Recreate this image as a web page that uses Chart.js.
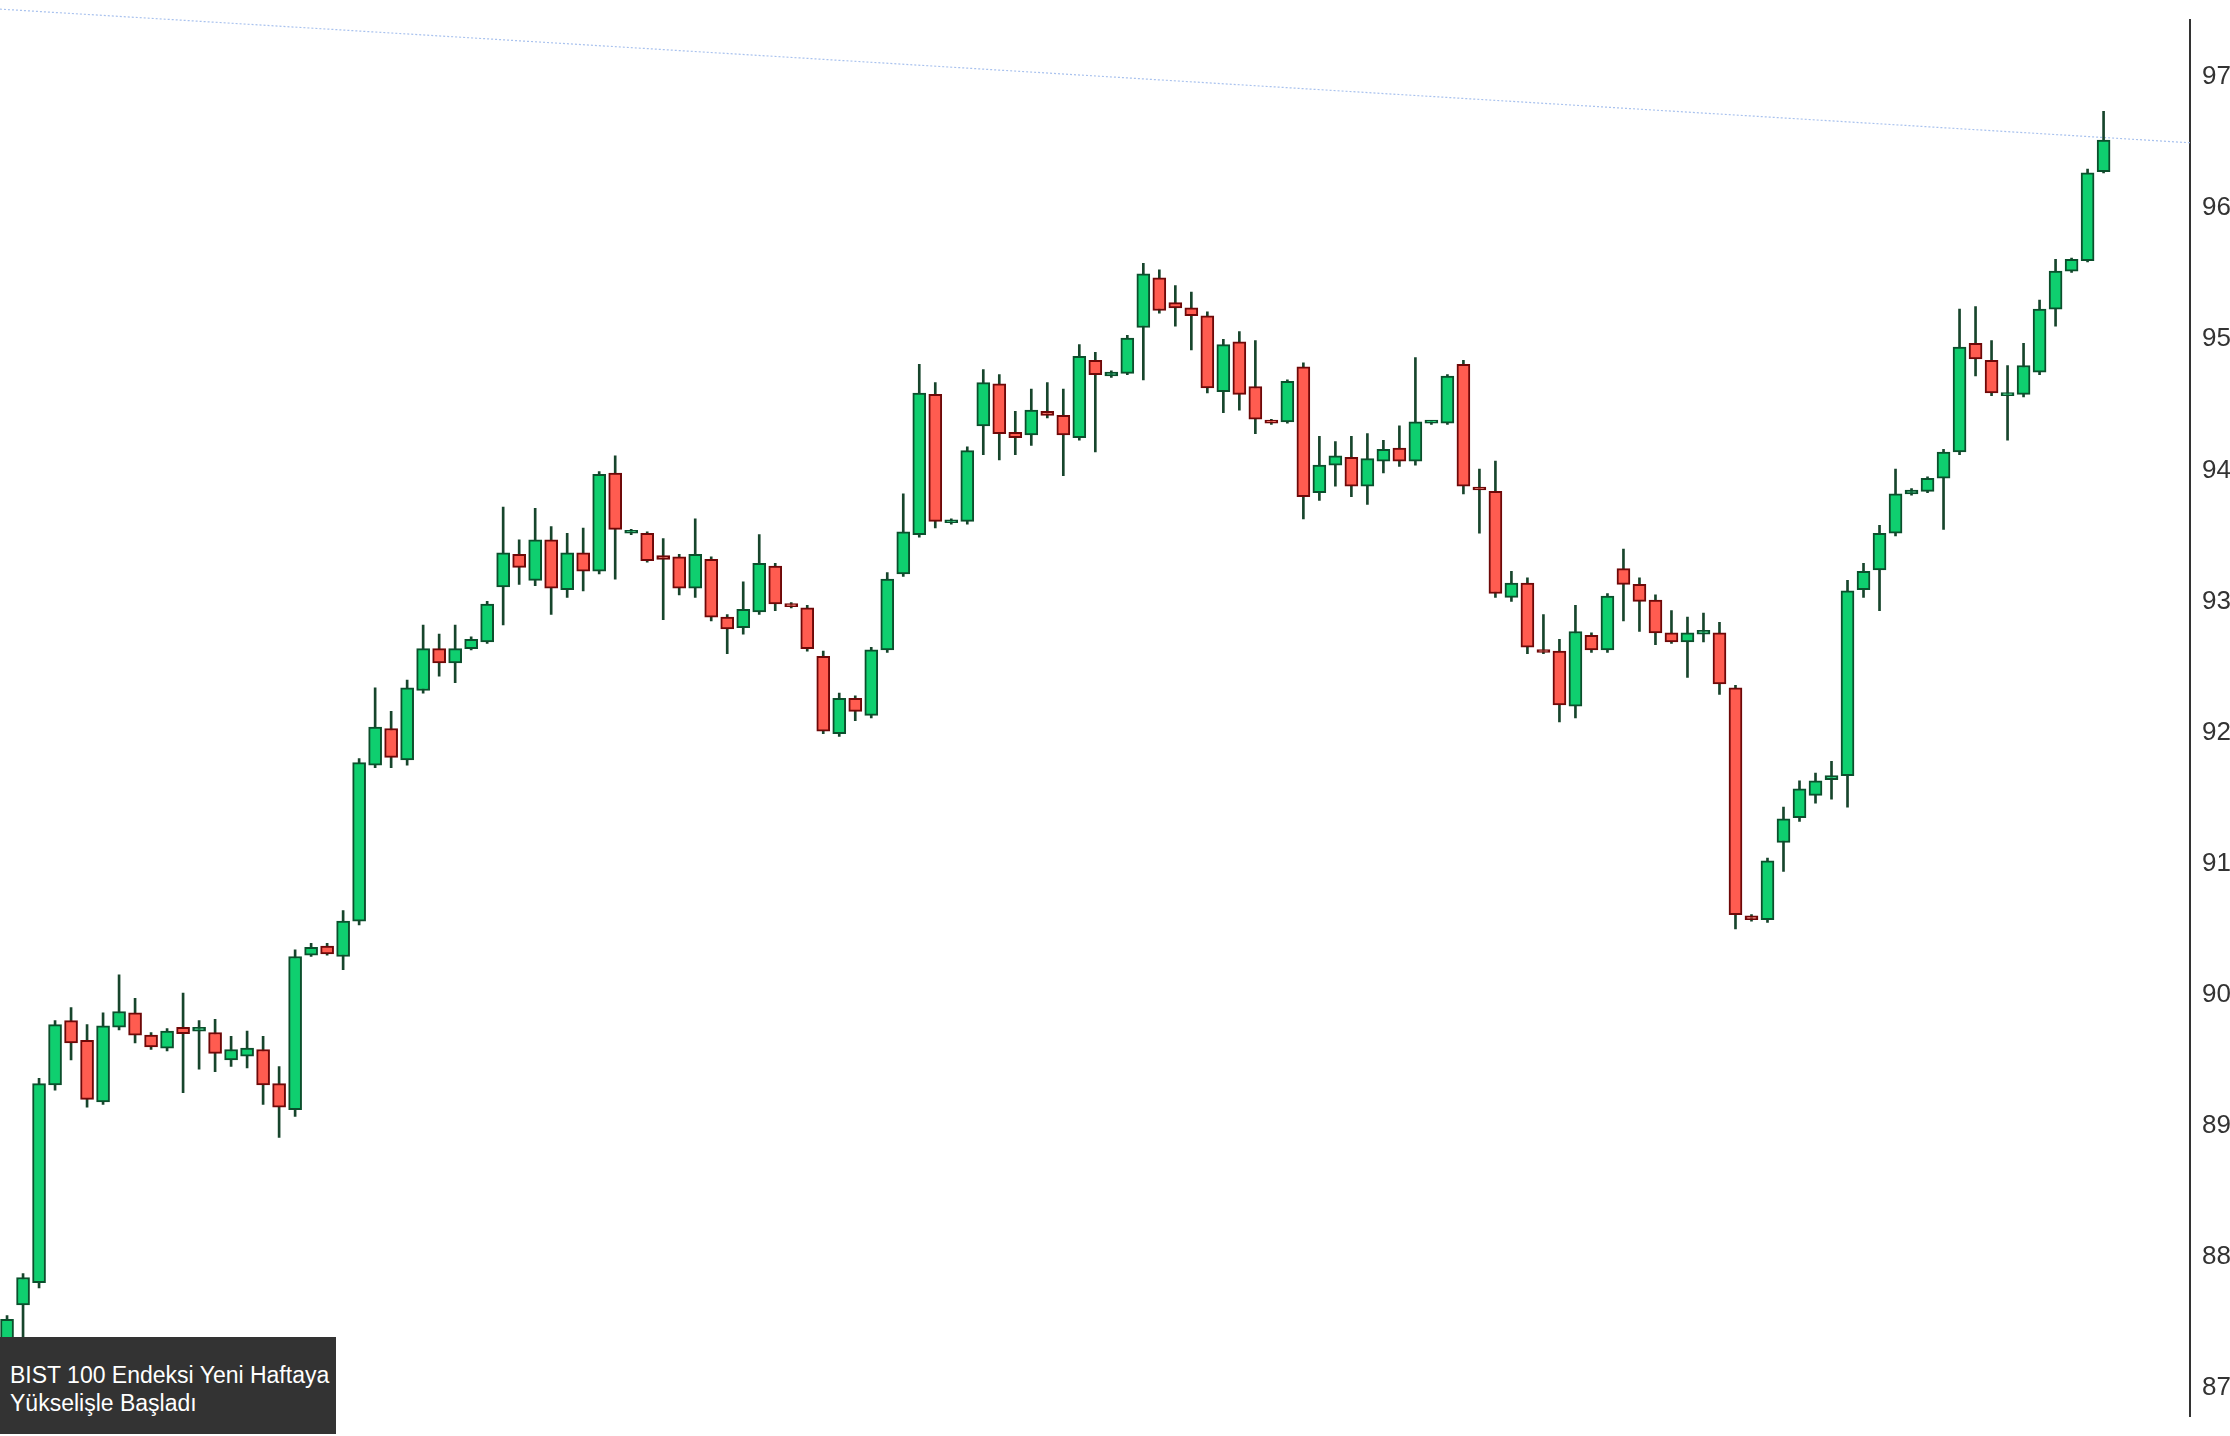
<!DOCTYPE html>
<html><head><meta charset="utf-8">
<script src="https://cdn.jsdelivr.net/npm/chart.js@4"></script>
<style>
html,body{margin:0;padding:0;background:#fff;overflow:hidden}
#wrap{position:relative;width:2230px;height:1436px}
#cap{position:absolute;left:0;top:1337px;width:336px;height:97px;background:#333;color:#fff;font-family:"Liberation Sans",Arial,sans-serif;font-size:23px;line-height:28px;padding:24px 0 0 10px;box-sizing:border-box;white-space:nowrap}
</style></head><body>
<div id="wrap"><canvas id="c" width="2230" height="1436"></canvas>
<div id="cap">BIST 100 Endeksi Yeni Haftaya<br>Yükselişle Başladı</div></div>
<script>
const opens=[8722,8763,8780,8931,8980,8965,8918,8975,8986,8969,8959,8975,8972,8971,8950,8953,8958,8932,8912,9030,9037,9029,9056,9175,9203,9179,9232,9264,9253,9264,9269,9311,9336,9316,9347,9309,9337,9323,9398,9352,9352,9335,9334,9310,9332,9288,9280,9292,9327,9298,9295,9258,9199,9226,9213,9263,9321,9351,9458,9360,9361,9434,9466,9429,9427,9445,9442,9425,9484,9472,9474,9509,9547,9528,9524,9518,9460,9498,9464,9438,9437,9479,9383,9404,9410,9388,9407,9417,9407,9436,9436,9481,9387,9384,9303,9314,9263,9262,9220,9274,9263,9325,9313,9301,9276,9269,9275,9276,9234,9060,9057,9116,9135,9152,9164,9167,9309,9324,9352,9382,9384,9394,9414,9497,9484,9457,9458,9475,9523,9552,9560,9628];
const highs=[8755,8787,8936,8980,8990,8977,8986,9015,8997,8971,8974,9001,8980,8981,8968,8972,8968,8945,9034,9039,9039,9064,9180,9234,9216,9240,9282,9275,9282,9273,9300,9372,9347,9371,9357,9352,9356,9399,9411,9355,9353,9348,9336,9363,9334,9290,9315,9351,9329,9299,9297,9262,9230,9228,9265,9322,9382,9481,9467,9363,9418,9477,9473,9445,9462,9467,9462,9496,9490,9476,9503,9558,9553,9541,9536,9521,9500,9506,9499,9439,9469,9482,9426,9422,9426,9428,9423,9434,9486,9438,9473,9484,9401,9407,9323,9318,9290,9271,9297,9276,9306,9340,9318,9305,9293,9288,9291,9284,9236,9061,9104,9143,9163,9169,9178,9316,9329,9358,9401,9386,9395,9416,9523,9525,9499,9480,9497,9530,9561,9562,9630,9674];
const lows=[8716,8673,8776,8927,8950,8914,8916,8973,8963,8958,8957,8925,8943,8941,8945,8944,8916,8891,8907,9029,9030,9019,9053,9173,9173,9175,9230,9243,9238,9263,9268,9282,9313,9312,9290,9303,9308,9321,9317,9351,9330,9286,9305,9303,9285,9260,9275,9290,9293,9295,9262,9199,9197,9209,9211,9261,9319,9349,9356,9359,9359,9412,9408,9412,9419,9440,9396,9423,9414,9471,9473,9469,9520,9510,9492,9459,9444,9446,9428,9435,9436,9363,9377,9388,9380,9374,9398,9403,9404,9435,9435,9382,9352,9303,9300,9260,9260,9208,9211,9261,9261,9285,9277,9267,9268,9242,9269,9229,9050,9056,9055,9094,9132,9146,9149,9143,9303,9293,9350,9381,9383,9355,9412,9472,9457,9423,9456,9473,9510,9551,9559,9627];
const closes=[8752,8784,8932,8977,8963,8920,8976,8987,8969,8960,8972,8970,8975,8955,8958,8959,8931,8914,9029,9036,9031,9056,9177,9204,9181,9234,9264,9253,9264,9271,9298,9337,9326,9347,9310,9337,9323,9397,9355,9353,9331,9332,9310,9336,9288,9279,9294,9329,9298,9296,9264,9201,9226,9216,9263,9317,9353,9459,9361,9362,9415,9467,9428,9425,9446,9442,9427,9487,9473,9475,9501,9550,9522,9524,9518,9463,9496,9458,9439,9436,9468,9380,9404,9411,9388,9409,9416,9407,9437,9437,9472,9388,9385,9306,9314,9265,9261,9221,9277,9263,9304,9313,9300,9276,9269,9276,9278,9237,9061,9057,9102,9134,9157,9163,9167,9308,9323,9352,9382,9385,9394,9414,9494,9485,9459,9459,9480,9523,9552,9561,9627,9652];
const yTicks=[8700,8800,8900,9000,9100,9200,9300,9400,9500,9600,9700];
const trendLine=[{x:-0.44,y:9752},{x:136.4,y:9650}];

const up=opens.map((o,i)=>closes[i]>=o);
const bodies=opens.map((o,i)=>({x:i,y:[o,closes[i]]}));
const wicks=lows.map((l,i)=>({x:i,y:[l,highs[i]]}));
new Chart(document.getElementById('c'),{
  data:{datasets:[
    {type:'line',data:trendLine,borderColor:'#a9c2ee',borderWidth:1.2,borderDash:[2,2],pointRadius:0,order:3,clip:false},
    {type:'bar',data:wicks,backgroundColor:'#17452c',barThickness:2,grouped:false,order:2},
    {type:'bar',data:bodies,grouped:false,barThickness:13,minBarLength:3,order:1,borderSkipped:false,borderWidth:2,
     backgroundColor:up.map(u=>u?'#0fcf6f':'#ff5c50'),borderColor:up.map(u=>u?'#0b4f2c':'#6e0808')}
  ]},
  options:{responsive:false,animation:false,devicePixelRatio:1,
    layout:{padding:0},
    plugins:{legend:{display:false},tooltip:{enabled:false}},
    scales:{
      x:{type:'linear',min:-0.44,max:136.4,offset:false,display:false},
      y:{position:'right',min:8678,max:9744,
        afterBuildTicks:s=>{s.ticks=yTicks.map(v=>({value:v}));},
        afterFit:s=>{s.width=40;},
        grid:{display:false,drawTicks:true,tickLength:8,tickColor:'#333'},
        border:{display:true,color:'#333',width:2},
        ticks:{color:'#333',font:{family:'Liberation Sans',size:26},padding:4,callback:v=>String(v)}}
    }}
});
</script></body></html>
